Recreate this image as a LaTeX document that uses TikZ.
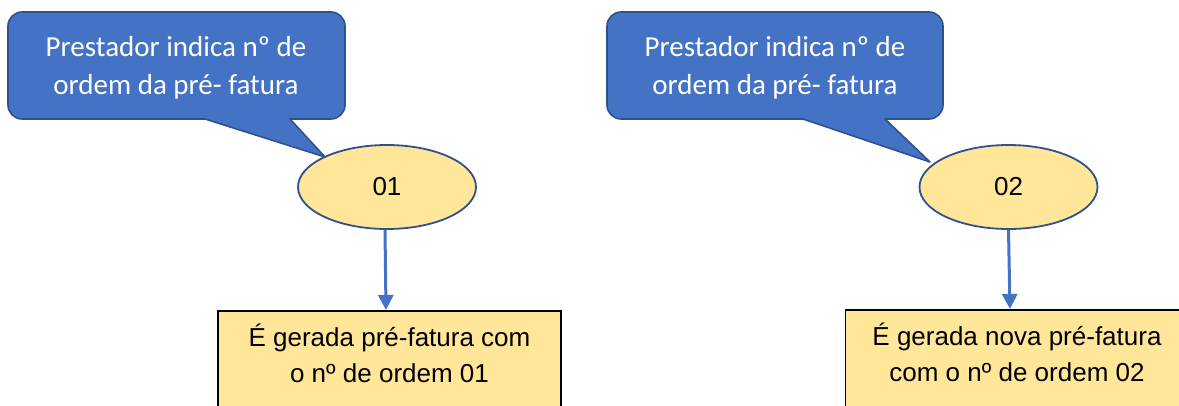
\documentclass[tikz,border=0pt]{standalone}
\usepackage{fontspec}
\setmainfont{Liberation Sans}
\newfontfamily\calloutfont{Carlito}
\usetikzlibrary{arrows.meta,shapes.geometric}
\definecolor{calloutblue}{HTML}{4472C4}
\definecolor{darkblue}{HTML}{2F528F}
\definecolor{paleyellow}{HTML}{FFE699}
\tikzset{
  calloutshape/.style={fill=calloutblue, draw=darkblue, line width=1.6pt, line join=round},
  callouttext/.style={text=white, font=\calloutfont\fontsize{29}{38}\selectfont, align=center, inner sep=0pt},
  oval/.style={ellipse, fill=paleyellow, draw=darkblue, line width=1.8pt, minimum width=178pt, minimum height=84pt, font=\fontsize{26}{30}\selectfont, inner sep=0pt},
  resultbox/.style={rectangle, fill=paleyellow, draw=black, line width=1.6pt, anchor=north, inner xsep=6.5pt, inner ysep=13pt, font=\fontsize{26}{36}\selectfont},
  flow/.style={draw=calloutblue, line width=3pt, -{Triangle[width=15pt,length=15pt]}}
}
\begin{document}
\begin{tikzpicture}[x=1pt,y=-1pt]
\useasboundingbox (0,0) rectangle (1179,405);
\clip (0,0) rectangle (1179,405);

% ---- left group ----
\node[oval] (e1) at (387,187) {01};
\coordinate (p1) at (325,157);
\path[calloutshape] (p1) -- (290,119) -- (331,119)
  arc[start angle=90, end angle=0, radius=14] -- (345,26)
  arc[start angle=0, end angle=-90, radius=14] -- (22,12)
  arc[start angle=-90, end angle=-180, radius=14] -- (8,105)
  arc[start angle=180, end angle=90, radius=14] -- (205,119) -- cycle;
\node[callouttext] (c1) at (176,68) {Prestador indica nº de\\ordem da pré- fatura};
\node[resultbox] (b1) at (389.5,310) {\parbox[t][110pt][t]{330pt}{\centering É gerada pré-fatura com\\o nº de ordem 01}};
\draw[flow] ([xshift=-2pt]e1.south) -- ([xshift=-3.5pt]b1.north);

% ---- right group ----
\node[oval] (e2) at (1008.5,187) {02};
\coordinate (p2) at (930,162);
\path[calloutshape] (p2) -- (885,119) -- (929,119)
  arc[start angle=90, end angle=0, radius=14] -- (943,26)
  arc[start angle=0, end angle=-90, radius=14] -- (621,12)
  arc[start angle=-90, end angle=-180, radius=14] -- (607,105)
  arc[start angle=180, end angle=90, radius=14] -- (803,119) -- cycle;
\node[callouttext] (c2) at (775,68) {Prestador indica nº de\\ordem da pré- fatura};
\node[resultbox] (b2) at (1017,309) {\parbox[t][110pt][t]{330pt}{\centering É gerada nova pré-fatura\\com o nº de ordem 02}};
\draw[flow] (e2.south) -- ([xshift=-7pt]b2.north);
\end{tikzpicture}
\end{document}
